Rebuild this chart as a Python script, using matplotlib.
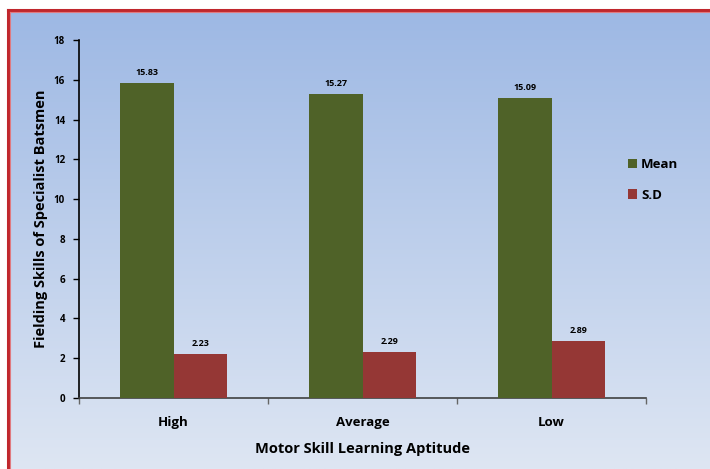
import numpy as np
import matplotlib
matplotlib.use("Agg")
import matplotlib.pyplot as plt

# data
categories = ["High", "Average", "Low"]
mean_vals = [15.83, 15.27, 15.09]
sd_vals = [2.23, 2.29, 2.89]
y_ticks = [0, 2, 4, 6, 8, 10, 12, 14, 16, 18]

plt.rcParams['font.family'] = ['Open Sans', 'DejaVu Sans']
plt.rcParams['font.weight'] = 'bold'

W, H = 710, 469
fig = plt.figure(figsize=(W / 100, H / 100), dpi=100)
fig.patch.set_facecolor('white')

# background gradient panel with red frame (cut off at right/bottom)
bg = fig.add_axes([0, 0, 1, 1], zorder=-10)
top = np.array([157, 184, 228]) / 255
bot = np.array([222, 230, 243]) / 255
t = np.linspace(0, 1, 256)[:, None]
grad = top * (1 - t) + bot * t
grad = np.repeat(grad[:, None, :], 2, axis=1)
x0, y0 = 8 / W, 1 - 10 / H
bg.imshow(grad, extent=[x0, 1, 0, y0], aspect='auto', origin='upper')
bg.set_xlim(0, 1)
bg.set_ylim(0, 1)
bg.axis('off')
bg.plot([x0, x0], [0, y0], color='#c0272d', lw=2.2, solid_capstyle='projecting')
bg.plot([x0, 1], [y0, y0], color='#c0272d', lw=2.2, solid_capstyle='projecting')
bg.plot([x0 + 2.2 / W, x0 + 2.2 / W], [0, y0 - 2.2 / H], color='#e07a80', lw=0.8)
bg.plot([x0 + 2.2 / W, 1], [y0 - 2.2 / H, y0 - 2.2 / H], color='#e07a80', lw=0.8)

# plot area
left, right = 79 / W, 646 / W
bottom, topy = 1 - 398 / H, 1 - 40 / H
ax = fig.add_axes([left, bottom, right - left, topy - bottom])
ax.patch.set_alpha(0)

x = np.arange(len(categories))
bw = 0.285
b1 = ax.bar(x - bw / 2, mean_vals, bw, color='#4f6228', label='Mean', zorder=3)
b2 = ax.bar(x + bw / 2, sd_vals, bw, color='#953735', label='S.D', zorder=3)

for bars, vals in ((b1, mean_vals), (b2, sd_vals)):
    for r, v in zip(bars, vals):
        ax.text(r.get_x() + r.get_width() / 2, v + 0.3, f"{v:.2f}",
                ha='center', va='bottom', fontsize=6.5, fontweight='bold')

ax.set_xlim(-0.5, 2.5)
ax.set_ylim(0, 18)
ax.set_yticks(y_ticks)
ax.tick_params(axis='y', labelsize=7, length=4, width=1, pad=6)
ax.set_xticks(x)
ax.set_xticklabels(categories, fontsize=9.5, fontweight='bold')
ax.tick_params(axis='x', length=0, pad=13)
ax.set_xticks([-0.5, 0.5, 1.5, 2.5], minor=True)
ax.tick_params(axis='x', which='minor', length=4, width=1, color='#666666')

for s in ('top', 'right'):
    ax.spines[s].set_visible(False)
ax.spines['left'].set_color('black')
ax.spines['left'].set_linewidth(1.2)
ax.spines['bottom'].set_color('#404040')
ax.spines['bottom'].set_linewidth(1.2)

ax.set_ylabel('Fielding Skills of Specialist Batsmen', fontsize=10.5,
              fontweight='bold', labelpad=4)
ax.set_xlabel('Motor Skill Learning Aptitude', fontsize=10.5,
              fontweight='bold', labelpad=9)

fig.legend(loc='upper left', bbox_to_anchor=(616 / W, 1 - 146 / H),
           frameon=False, handlelength=0.7, handleheight=0.7,
           handletextpad=0.3, labelspacing=1.35,
           prop={'weight': 'bold', 'size': 9.5})

fig.savefig('out.png', dpi=100, facecolor=fig.get_facecolor())
